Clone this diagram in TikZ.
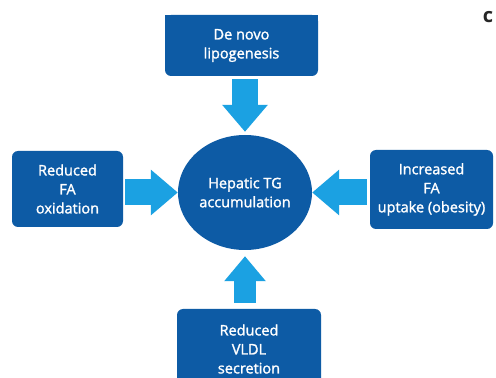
\documentclass[tikz,border=0pt]{standalone}
\usepackage{fontspec}
\setmainfont{Open Sans}
\newfontfamily\semifont{Open Sans}[FakeBold=1.6]
\usetikzlibrary{arrows.meta,shapes.geometric}
\definecolor{boxblue}{HTML}{0D5BA5}
\definecolor{arrowblue}{HTML}{1BA1E2}
\begin{document}
\begin{tikzpicture}[x=1pt,y=1pt,
  box/.style={fill=boxblue, text=white, rounded corners=6pt, align=center,
    font=\semifont\fontsize{14.5}{19}\selectfont, inner sep=0pt},
  flow/.style={arrowblue, line width=26pt, -{Triangle[length=27pt,width=44pt]}}]
\useasboundingbox (0,0) rectangle (496,378);
\fill[white] (0,0) rectangle (496,378);
% boxes
\node[box, minimum width=153pt, minimum height=61pt] (top) at (241.5,332.5) {De novo\\lipogenesis};
\fill[boxblue] (top.north west) rectangle ([yshift=-8pt]top.north east);
\node[box, minimum width=111pt, minimum height=76pt] (left) at (67.5,189) {Reduced\\FA\\oxidation};
\node[box, minimum width=123pt, minimum height=79pt] (right) at (431.5,188.5) {Increased\\FA\\uptake (obesity)};
\node[box, minimum width=144pt, minimum height=80pt] (bottom) at (249,29) {Reduced\\VLDL\\secretion};
% centre
\node[ellipse, fill=boxblue, text=white, align=center, inner sep=0pt,
  minimum width=134pt, minimum height=115pt,
  font=\semifont\fontsize{14.5}{19}\selectfont] (hep) at (245,185.5) {Hepatic TG\\accumulation};
% arrows
\draw[flow, shorten >=3pt] ([yshift=-3pt]top.south -| hep.north) -- (hep.north);
\draw[flow] ([xshift=2pt]left.east |- hep.center) -- (hep.west);
\draw[flow] ([xshift=-3pt]right.west |- hep.center) -- (hep.east);
\draw[flow, line width=22pt, -{Triangle[length=25pt,width=40pt]}, shorten >=6pt] ([yshift=6pt]bottom.north -| hep.south) -- (hep.south);
% corner glyph
\node[text=black!85, font=\bfseries\fontsize{20}{20}\selectfont, inner sep=0pt] (cg) at (488,361) {c};
\end{tikzpicture}
\end{document}
